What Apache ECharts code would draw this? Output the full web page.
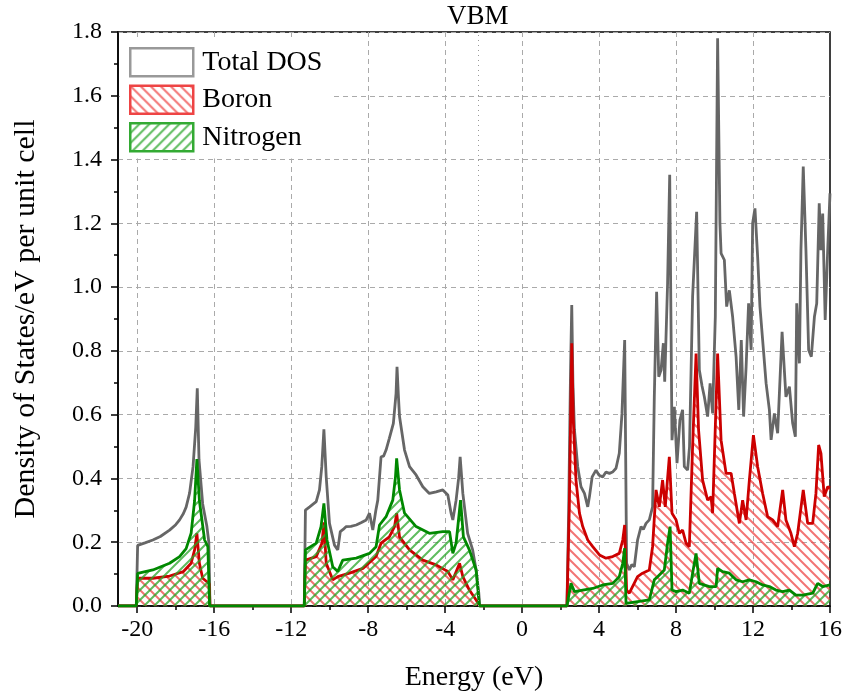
<!DOCTYPE html>
<html>
<head>
<meta charset="utf-8">
<script src="https://cdn.jsdelivr.net/npm/echarts@6/dist/echarts.min.js"></script>
<style>html,body{margin:0;padding:0;background:#fff}#c{width:845px;height:697px}</style>
</head>
<body>
<div id="c"></div>
<script>
// ---- data ----
const totalE = [-21,-20.05,-19.98,-19.6,-19.19,-18.8,-18.32,-18.0,-17.8,-17.6,-17.46,-17.28,-17.1,-16.96,-16.88,-16.79,-16.6,-16.38,-16.28,-16.22,
  -11.32,-11.26,-11.04,-10.7,-10.53,-10.41,-10.3,-10.18,-10.01,-9.75,-9.58,-9.45,-9.3,-9.14,-8.9,-8.62,-8.35,-8.1,-7.93,-7.76,-7.6,-7.5,-7.33,-7.2,-7.07,-6.9,-6.69,-6.55,-6.5,-6.43,-6.37,-6.11,-5.85,-5.51,-5.16,-4.82,-4.47,-4.12,-3.86,-3.69,-3.6,-3.43,-3.3,-3.22,-3.08,-2.83,-2.57,-2.39,-2.25,-2.2,
  2.33,2.42,2.52,2.58,2.64,2.72,2.89,3.06,3.24,3.41,3.5,3.64,3.84,4.0,4.19,4.36,4.54,4.7,4.88,5.05,5.19,5.33,5.43,5.57,5.7,5.83,6.0,6.18,6.3,6.44,6.61,6.78,6.87,6.99,7.1,7.22,7.34,7.41,7.56,7.67,7.79,7.91,8.05,8.2,8.34,8.43,8.6,8.7,8.86,8.95,9.07,9.21,9.35,9.47,9.64,9.77,9.9,10.04,10.16,10.28,10.34,10.51,10.63,10.77,10.94,11.12,11.26,11.39,11.51,11.64,11.77,11.9,11.98,12.1,12.24,12.36,12.5,12.68,12.85,12.94,13.11,13.28,13.51,13.71,13.89,14.06,14.2,14.27,14.41,14.49,14.61,14.75,14.89,15.03,15.19,15.31,15.44,15.53,15.62,15.75,15.88,16.0];
const totalDos = [0,0,0.19,0.198,0.207,0.218,0.238,0.255,0.27,0.29,0.31,0.354,0.437,0.56,0.683,0.458,0.32,0.249,0.2,0,
  0,0.301,0.311,0.327,0.364,0.437,0.554,0.405,0.259,0.191,0.176,0.233,0.24,0.249,0.25,0.254,0.262,0.27,0.291,0.238,0.3,0.332,0.468,0.47,0.489,0.526,0.573,0.667,0.75,0.66,0.594,0.489,0.437,0.411,0.374,0.353,0.358,0.364,0.348,0.291,0.27,0.332,0.4,0.468,0.353,0.228,0.176,0.113,0.04,0,
  0,0.3,0.75,0.944,0.7,0.552,0.437,0.374,0.353,0.311,0.343,0.405,0.426,0.41,0.405,0.42,0.416,0.42,0.432,0.479,0.604,0.834,0.134,0.113,0.13,0.123,0.207,0.249,0.24,0.259,0.27,0.311,0.656,0.985,0.719,0.74,0.824,0.703,1.012,1.352,0.52,0.625,0.448,0.583,0.615,0.437,0.426,0.5,0.97,0.975,1.236,0.74,0.69,0.656,0.594,0.698,0.604,0.907,1.78,1.2,1.106,1.085,0.939,0.99,0.907,0.782,0.615,0.834,0.594,0.75,0.949,0.803,1.2,1.247,1.095,0.939,0.834,0.698,0.615,0.521,0.604,0.542,0.86,0.656,0.688,0.573,0.531,0.949,0.761,1.116,1.378,1.116,0.803,0.782,0.907,0.949,1.263,1.116,1.231,0.897,1.116,1.294];

const boronE = [-21,-20.05,-19.98,-19.19,-18.32,-17.6,-17.2,-17.02,-16.9,-16.77,-16.6,-16.38,-16.26,-16.22,
  -11.32,-11.26,-10.7,-10.4,-10.3,-10.18,-9.84,-9.58,-8.97,-8.27,-7.59,-7.33,-6.9,-6.63,-6.52,-6.37,-5.85,-5.16,-4.47,-3.86,-3.6,-3.25,-3.08,-2.74,-2.39,-2.2,
  2.33,2.45,2.58,2.66,2.8,2.98,3.15,3.41,3.67,4.02,4.36,4.71,5.05,5.23,5.33,5.43,5.57,6.0,6.26,6.61,6.78,6.96,7.13,7.3,7.44,7.65,7.79,8.0,8.17,8.34,8.52,8.69,8.86,9.04,9.17,9.38,9.64,9.82,9.9,10.16,10.34,10.6,10.86,11.03,11.29,11.46,11.64,11.81,12.02,12.24,12.5,12.76,13.02,13.28,13.54,13.71,13.97,14.15,14.32,14.61,14.84,15.1,15.27,15.41,15.53,15.7,15.88,16.0];
const boronDos = [0,0,0.087,0.087,0.094,0.108,0.134,0.176,0.228,0.134,0.087,0.076,0.07,0,
  0,0.144,0.155,0.197,0.262,0.134,0.082,0.092,0.103,0.118,0.155,0.197,0.217,0.249,0.291,0.217,0.176,0.144,0.129,0.108,0.082,0.134,0.092,0.05,0.019,0,
  0,0.3,0.824,0.583,0.395,0.291,0.249,0.207,0.186,0.16,0.15,0.155,0.165,0.207,0.254,0.05,0.04,0.092,0.103,0.113,0.186,0.364,0.311,0.395,0.311,0.468,0.291,0.27,0.228,0.238,0.197,0.186,0.5,0.792,0.552,0.395,0.332,0.343,0.291,0.792,0.52,0.416,0.416,0.353,0.259,0.332,0.27,0.395,0.536,0.437,0.353,0.28,0.27,0.249,0.364,0.27,0.228,0.186,0.228,0.364,0.259,0.259,0.353,0.505,0.479,0.343,0.374,0.37];

const nitrogenE = [-21,-20.05,-19.98,-19.19,-18.32,-17.8,-17.46,-17.2,-17.02,-16.9,-16.77,-16.5,-16.33,-16.24,
  -11.32,-11.26,-10.7,-10.45,-10.3,-10.14,-9.84,-9.58,-9.32,-8.62,-7.93,-7.59,-7.41,-7.07,-6.72,-6.58,-6.52,-6.37,-6.11,-5.51,-4.82,-4.12,-3.77,-3.6,-3.43,-3.2,-3.05,-2.74,-2.39,-2.22,
  2.33,2.54,2.72,3.15,3.67,4.19,4.71,5.05,5.23,5.33,5.4,6.61,6.87,7.04,7.39,7.56,7.69,7.79,8.0,8.34,8.69,8.86,9.04,9.21,9.73,10.08,10.16,10.42,10.77,11.12,11.46,11.81,12.16,12.5,12.85,13.19,13.54,13.89,14.23,14.58,15.1,15.36,15.62,16.0];
const nitrogenDos = [0,0,0.102,0.113,0.134,0.155,0.18,0.228,0.33,0.461,0.33,0.207,0.186,0,
  0,0.176,0.197,0.249,0.322,0.207,0.123,0.108,0.144,0.15,0.165,0.186,0.254,0.28,0.332,0.405,0.463,0.364,0.291,0.249,0.228,0.233,0.233,0.165,0.197,0.332,0.217,0.176,0.113,0,
  0,0.071,0.045,0.05,0.055,0.066,0.071,0.092,0.134,0.181,0.008,0.019,0.082,0.092,0.113,0.197,0.249,0.05,0.045,0.05,0.04,0.103,0.165,0.071,0.061,0.061,0.118,0.108,0.103,0.082,0.076,0.082,0.076,0.066,0.061,0.05,0.045,0.05,0.034,0.034,0.04,0.071,0.061,0.066];

const xMajorTicks = [-20,-16,-12,-8,-4,0,4,8,12,16];
const xMinorTicks = [-18,-14,-10,-6,-2,2,6,10,14];
const xGridLines = [-20,-16,-12,-8,-4,0,4,8,12];
const vbmEnergy = -2.3;
const seriesNames = ['Total DOS','Boron','Nitrogen'];

// ---- helpers ----
function zip(xs, ys){ return xs.map((x,i)=>[x, ys[i]]); }
function hatch(color, forward){
  const s = 10, c = document.createElement('canvas');
  c.width = s; c.height = s;
  const g = c.getContext('2d');
  g.strokeStyle = color; g.lineWidth = 2; g.lineCap = 'square';
  g.beginPath();
  if (forward){ // "/"
    g.moveTo(-2, s+2); g.lineTo(s+2, -2);
    g.moveTo(-2, 2); g.lineTo(2, -2);
    g.moveTo(s-2, s+2); g.lineTo(s+2, s-2);
  } else {      // "\"
    g.moveTo(-2, -2); g.lineTo(s+2, s+2);
    g.moveTo(-2, s-2); g.lineTo(2, s+2);
    g.moveTo(s-2, -2); g.lineTo(s+2, 2);
  }
  g.stroke();
  return c;
}
const redHatch = {image: hatch('rgba(238,70,70,0.75)', false), repeat: 'repeat'};
const greenHatch = {image: hatch('rgba(40,165,40,0.75)', true), repeat: 'repeat'};

const FONT = "'Liberation Serif', 'Times New Roman', serif";
const gridDash = {color: '#aaa', type: [5, 4], width: 1};

const chart = echarts.init(document.getElementById('c'), null, {renderer: 'canvas'});
chart.setOption({
  backgroundColor: '#fff',
  animation: false,
  grid: {left: 118, right: 14, top: 32, bottom: 91, show: true, borderColor: '#000', borderWidth: 1.5, backgroundColor: 'transparent'},
  legend: {
    orient: 'vertical', left: 120, top: 41, icon: 'rect',
    itemWidth: 63, itemHeight: 28, itemGap: 7,
    backgroundColor: '#fff', padding: [6, 10, 6, 9],
    textStyle: {fontFamily: FONT, fontSize: 28, color: '#000', padding: [0,0,0,4]},
    data: [
      {name: seriesNames[0], itemStyle: {color: '#fff', borderColor: '#999', borderWidth: 2.5}},
      {name: seriesNames[1], itemStyle: {color: redHatch, borderColor: '#ee4444', borderWidth: 2.5}},
      {name: seriesNames[2], itemStyle: {color: greenHatch, borderColor: '#33aa33', borderWidth: 2.5}}
    ]
  },
  xAxis: [{
    type: 'value', min: -21, max: 16, position: 'bottom',
    name: 'Energy (eV)', nameLocation: 'middle', nameGap: 58,
    nameTextStyle: {fontFamily: FONT, fontSize: 28, color: '#000'},
    axisLine: {show: true, onZero: false, lineStyle: {color: '#000', width: 1.5}},
    axisTick: {show: true, customValues: xMajorTicks, length: 7, lineStyle: {color: '#000', width: 1.5}},
    axisLabel: {customValues: xMajorTicks, formatter: v => String(v), fontFamily: FONT, fontSize: 24, color: '#000', margin: 12},
    splitLine: {show: false}
  }, {
    type: 'value', min: -21, max: 16, position: 'bottom', gridIndex: 0,
    axisLine: {show: false, onZero: false},
    axisTick: {show: true, customValues: xMinorTicks, length: 4, lineStyle: {color: '#000', width: 1.5}},
    axisLabel: {show: false},
    splitLine: {show: false}
  }, {
    type: 'value', min: -21, max: 16, position: 'bottom', gridIndex: 0,
    axisLine: {show: false, onZero: false},
    axisTick: {show: false, customValues: xGridLines},
    axisLabel: {show: false},
    splitLine: {show: true, lineStyle: gridDash}
  }],
  yAxis: {
    type: 'value', min: 0, max: 1.8, interval: 0.2,
    name: 'Density of States/eV per unit cell', nameLocation: 'middle', nameGap: 77, nameRotate: 90,
    nameTextStyle: {fontFamily: FONT, fontSize: 30, color: '#000'},
    axisLine: {show: true, onZero: false, lineStyle: {color: '#000', width: 1.5}},
    axisTick: {show: true, length: 7, lineStyle: {color: '#000', width: 1.5}},
    minorTick: {show: true, splitNumber: 2, length: 4, lineStyle: {color: '#000', width: 1.5}},
    axisLabel: {formatter: v => v.toFixed(1), fontFamily: FONT, fontSize: 24, color: '#000', margin: 16},
    splitLine: {show: true, lineStyle: gridDash}
  },
  series: [{
    name: seriesNames[0], type: 'line', xAxisIndex: 0, showSymbol: false, symbol: 'none',
    data: zip(totalE, totalDos),
    lineStyle: {color: '#666', width: 2.8}, itemStyle: {color: '#666'}, z: 2,
    markLine: {
      silent: true, symbol: 'none',
      lineStyle: {color: '#999', type: [1, 4], width: 1},
      label: {show: true, position: 'end', formatter: 'VBM', fontFamily: FONT, fontSize: 27, color: '#000', distance: 2},
      data: [{xAxis: vbmEnergy}]
    }
  }, {
    name: seriesNames[1], type: 'line', xAxisIndex: 0, showSymbol: false, symbol: 'none',
    data: zip(boronE, boronDos),
    lineStyle: {color: '#cc0000', width: 2.8}, itemStyle: {color: '#cc0000'},
    areaStyle: {color: redHatch, opacity: 1}, z: 3
  }, {
    name: seriesNames[2], type: 'line', xAxisIndex: 0, showSymbol: false, symbol: 'none',
    data: zip(nitrogenE, nitrogenDos),
    lineStyle: {color: '#008800', width: 2.8}, itemStyle: {color: '#008800'},
    areaStyle: {color: greenHatch, opacity: 1}, z: 4
  }]
});
</script>
</body>
</html>
